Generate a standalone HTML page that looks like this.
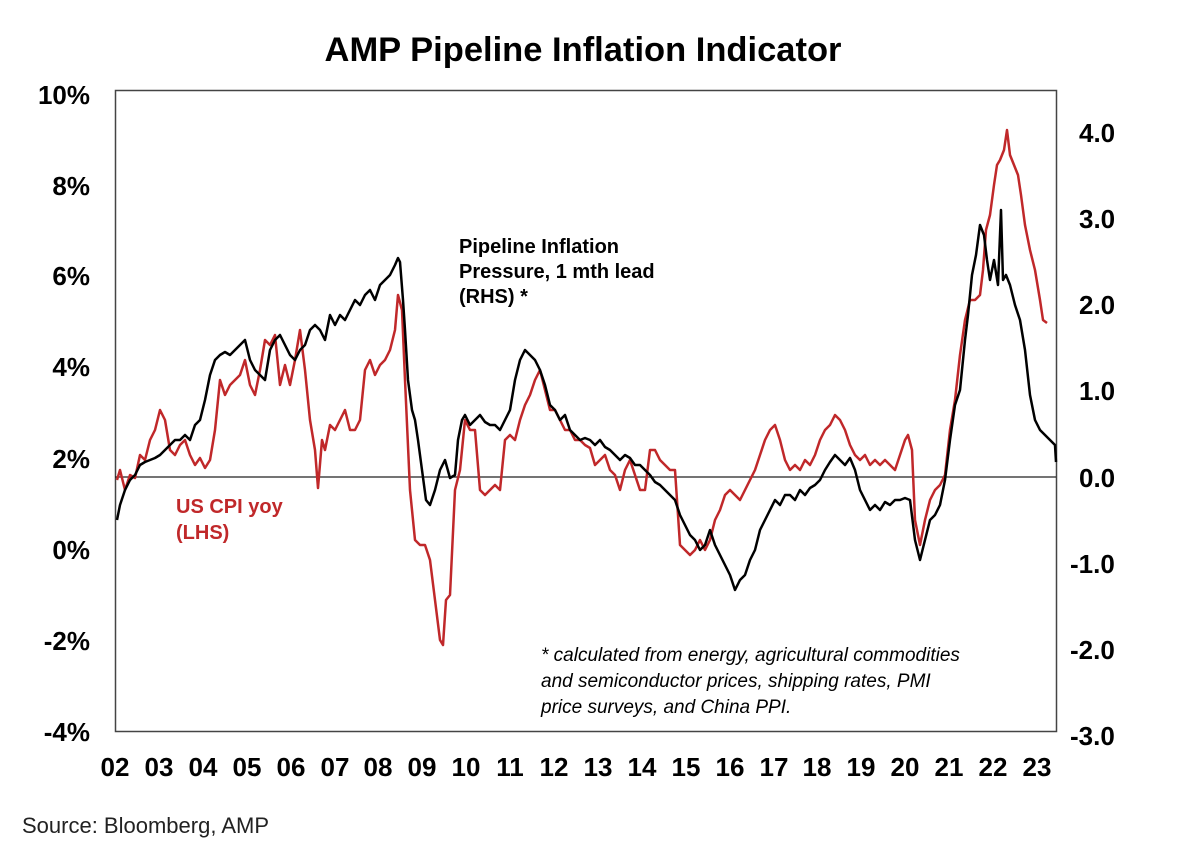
<!DOCTYPE html>
<html><head><meta charset="utf-8"><style>
body{margin:0;background:#fff;}
svg{display:block;font-family:"Liberation Sans",Arial,sans-serif;}
</style></head><body>
<svg width="1200" height="852" viewBox="0 0 1200 852">
<rect width="1200" height="852" fill="#fff"/>
<text x="583" y="61" font-size="34.5" font-weight="bold" text-anchor="middle">AMP Pipeline Inflation Indicator</text>
<rect x="115.5" y="90.5" width="941" height="641" fill="none" stroke="#444" stroke-width="1.5"/>
<line x1="115" y1="477" x2="1056" y2="477" stroke="#222" stroke-width="1.2"/>
<g font-size="26" font-weight="bold" text-anchor="end">
<text x="90" y="104">10%</text><text x="90" y="195">8%</text><text x="90" y="285">6%</text><text x="90" y="376">4%</text><text x="90" y="468">2%</text><text x="90" y="559">0%</text><text x="90" y="650">-2%</text><text x="90" y="741">-4%</text>
</g>
<g font-size="26" font-weight="bold" text-anchor="start">
<text x="1079" y="142">4.0</text><text x="1079" y="228">3.0</text><text x="1079" y="314">2.0</text><text x="1079" y="400">1.0</text><text x="1079" y="487">0.0</text><text x="1070" y="573">-1.0</text><text x="1070" y="659">-2.0</text><text x="1070" y="745">-3.0</text>
</g>
<g font-size="26" font-weight="bold" text-anchor="middle">
<text x="115" y="776">02</text><text x="159" y="776">03</text><text x="203" y="776">04</text><text x="247" y="776">05</text><text x="291" y="776">06</text><text x="335" y="776">07</text><text x="378" y="776">08</text><text x="422" y="776">09</text><text x="466" y="776">10</text><text x="510" y="776">11</text><text x="554" y="776">12</text><text x="598" y="776">13</text><text x="642" y="776">14</text><text x="686" y="776">15</text><text x="730" y="776">16</text><text x="774" y="776">17</text><text x="817" y="776">18</text><text x="861" y="776">19</text><text x="905" y="776">20</text><text x="949" y="776">21</text><text x="993" y="776">22</text><text x="1037" y="776">23</text>
</g>
<polyline fill="none" stroke="#c0282a" stroke-width="2.5" stroke-linejoin="round" points="117,480 120,470 125,490 130,475 135,478 140,455 145,460 150,440 155,430 160,410 165,420 170,450 175,455 180,445 185,440 190,455 195,465 200,458 205,468 210,460 215,430 220,380 225,395 230,385 235,380 240,375 245,360 250,385 255,395 260,370 265,340 270,345 275,335 280,385 285,365 290,385 295,360 300,330 305,370 310,420 315,450 318,488 322,440 325,450 330,425 335,430 340,420 345,410 350,430 355,430 360,420 365,370 370,360 375,375 380,365 385,360 390,350 395,330 398,295 402,310 405,380 410,490 415,540 420,545 425,545 430,560 435,600 440,640 443,645 446,600 450,595 455,490 460,470 465,420 470,430 475,430 480,490 485,495 490,490 495,485 500,490 505,440 510,435 515,440 520,420 525,405 530,395 535,380 540,370 545,390 550,410 555,410 560,420 565,430 570,430 575,440 580,440 585,445 590,448 595,465 600,460 605,455 610,470 615,475 620,490 625,470 630,460 635,475 640,490 645,490 650,450 655,450 660,460 665,465 670,470 675,470 680,545 685,550 690,555 695,550 700,540 705,550 710,540 715,520 720,510 725,495 730,490 735,495 740,500 745,490 750,480 755,470 760,455 765,440 770,430 775,425 780,440 785,460 790,470 795,465 800,470 805,460 810,465 815,455 820,440 825,430 830,425 835,415 840,420 845,430 850,445 855,455 860,460 865,455 870,465 875,460 880,465 885,460 890,465 895,470 900,455 905,440 908,435 912,450 915,520 920,545 925,520 930,500 935,490 940,485 945,475 950,430 955,400 960,355 965,320 970,300 975,300 980,295 983,270 986,230 990,215 994,185 997,165 1000,160 1004,150 1007,130 1010,155 1014,165 1018,175 1021,195 1025,225 1030,250 1035,270 1040,300 1043,320 1047,323"/>
<polyline fill="none" stroke="#000" stroke-width="2.5" stroke-linejoin="round" points="117,520 120,505 125,490 130,480 135,475 140,465 145,462 150,460 155,458 160,455 165,450 170,445 175,440 180,440 185,435 190,440 195,425 200,420 205,400 210,375 215,360 220,355 225,352 230,355 235,350 240,345 245,340 250,360 255,370 260,375 265,380 270,350 275,340 280,335 285,345 290,355 295,360 300,350 305,345 310,330 315,325 320,330 325,340 330,315 335,325 340,315 345,320 350,310 355,300 360,305 365,295 370,290 375,300 380,285 385,280 390,275 395,265 398,258 400,262 403,300 405,330 408,380 412,410 415,420 418,440 422,470 426,500 430,505 435,490 440,470 445,460 450,478 455,475 458,440 462,420 465,415 470,425 475,420 480,415 485,422 490,425 495,425 500,430 505,420 510,410 515,380 520,360 525,350 530,355 535,360 540,370 545,385 550,405 555,410 560,420 565,415 570,430 575,435 580,440 585,438 590,440 595,445 600,440 605,447 610,450 615,455 620,460 625,455 630,458 635,465 640,465 645,470 650,475 655,482 660,485 665,490 670,495 675,500 680,515 685,525 690,535 695,540 700,550 705,545 710,530 715,545 720,555 725,565 730,575 735,590 740,580 745,575 750,560 755,550 760,530 765,520 770,510 775,500 780,505 785,495 790,495 795,500 800,490 805,495 810,488 815,485 820,480 825,470 830,462 835,455 840,460 845,465 850,458 855,470 860,490 865,500 870,510 875,505 880,510 885,502 890,505 895,500 900,500 905,498 910,500 915,540 920,560 925,540 930,520 935,515 940,505 945,480 950,440 955,405 960,390 965,340 968,315 972,275 976,255 980,225 984,235 987,260 990,280 994,260 998,285 1001,210 1003,280 1006,275 1010,285 1015,305 1020,320 1025,350 1030,395 1035,420 1040,430 1045,435 1050,440 1055,445 1056,462"/>
<g font-size="20" font-weight="bold">
<text x="459" y="253">Pipeline Inflation</text>
<text x="459" y="278">Pressure, 1 mth lead</text>
<text x="459" y="303">(RHS) *</text>
</g>
<g font-size="20" font-weight="bold" fill="#c0282a">
<text x="176" y="513">US CPI yoy</text>
<text x="176" y="539">(LHS)</text>
</g>
<g font-size="19" font-style="italic">
<text x="541" y="661">* calculated from energy, agricultural commodities</text>
<text x="541" y="687">and semiconductor prices, shipping rates, PMI</text>
<text x="541" y="713">price surveys, and China PPI.</text>
</g>
<text x="22" y="833" font-size="22" fill="#222">Source: Bloomberg, AMP</text>
</svg>
</body></html>
